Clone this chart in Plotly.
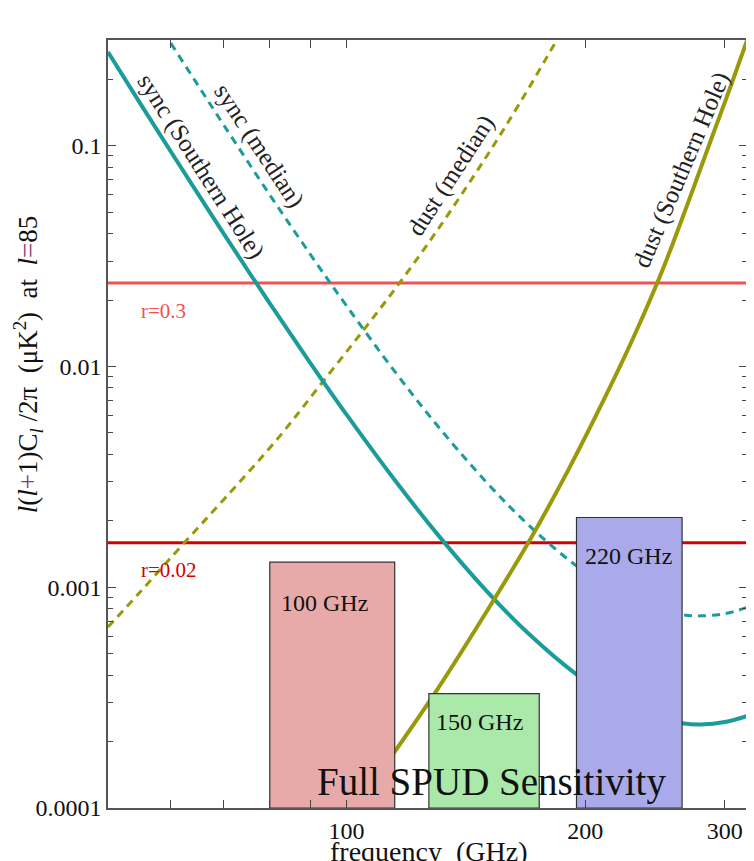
import math
import plotly.graph_objects as go

# ---------------- data ----------------
FREQ_RANGE = [50, 320]          # GHz, x-axis extent
CL_RANGE = [1e-4, 0.3014]       # y-axis extent

# synchrotron, Southern Hole (solid teal)
sync_sh_freq = [50, 55, 60, 65, 70, 80, 90, 100, 115, 130, 150, 170, 195, 220, 250, 265, 280, 300, 320]
sync_sh_val = [0.266, 0.154, 0.0942, 0.0602, 0.0399, 0.0193, 0.01037, 0.00605, 0.00306, 0.00175,
               0.000966, 0.000612, 0.000403, 0.000305, 0.000253, 0.000242, 0.000239, 0.000245, 0.000261]

# synchrotron, median (dashed teal)
sync_med_freq = [55, 60, 65, 70, 80, 90, 100, 115, 130, 150, 170, 195, 220, 250, 265, 280, 300, 320]
sync_med_val = [0.478, 0.292, 0.187, 0.124, 0.0599, 0.0322, 0.0188, 0.0095, 0.00543, 0.0030, 0.0019,
                0.00125, 0.000946, 0.000785, 0.000751, 0.000742, 0.000759, 0.00081]

# dust, Southern Hole (solid olive)
dust_sh_freq = [100, 110, 115, 130, 150, 170, 190, 210, 230, 250, 270, 290, 305, 320]
dust_sh_val = [9.0e-5, 1.44e-4, 1.80e-4, 3.42e-4, 7.7e-4, 1.62e-3, 3.35e-3, 6.8e-3, 0.0135, 0.027,
               0.056, 0.113, 0.185, 0.30]

# dust, median (dashed olive)
dust_med_freq = [50, 55, 62, 70, 82, 93, 105, 117, 130, 150, 165, 183, 190]
dust_med_val = [6.6e-4, 9.6e-4, 1.55e-3, 2.5e-3, 4.75e-3, 8.4e-3, 0.0146, 0.0243, 0.0412, 0.089,
                0.154, 0.29, 0.373]

# tensor-to-scalar reference levels
r_labels = ["r=0.3", "r=0.02"]
r_values = [0.0239, 0.00159]
r_colors = ["#f05252", "#d40000"]

# SPUD bands (full sensitivity)
band_labels = ["100 GHz", "150 GHz", "220 GHz"]
band_lo = [80, 127, 195]
band_hi = [115, 175, 265]
band_top = [0.0013, 0.00033, 0.00207]
band_colors = ["#e8a9a9", "#aae9aa", "#aaaaea"]

x_tickvals = [100, 200, 300]
x_ticktext = ["100", "200", "300"]
x_minor = [60, 70, 80, 90]
y_tickvals = [1e-4, 1e-3, 1e-2, 1e-1]
y_ticktext = ["0.0001", "0.001", "0.01", "0.1"]
y_minor = [m * d for d in (1e-4, 1e-3, 1e-2) for m in range(2, 10)] + [0.2]

TEAL = "#1b9c9a"
OLIVE = "#999a0a"
FONT = "Liberation Serif"

fig = go.Figure()

# horizontal r lines
for lab, val, col in zip(r_labels, r_values, r_colors):
    fig.add_trace(go.Scatter(x=FREQ_RANGE, y=[val, val], mode="lines",
                             line=dict(color=col, width=3), hoverinfo="skip"))

# foreground curves
fig.add_trace(go.Scatter(x=sync_med_freq, y=sync_med_val, mode="lines",
                         line=dict(color=TEAL, width=3, dash="8px,6px", shape="spline")))
fig.add_trace(go.Scatter(x=dust_med_freq, y=dust_med_val, mode="lines",
                         line=dict(color=OLIVE, width=3, dash="8px,6px", shape="spline")))
fig.add_trace(go.Scatter(x=sync_sh_freq, y=sync_sh_val, mode="lines",
                         line=dict(color=TEAL, width=4, shape="spline")))
fig.add_trace(go.Scatter(x=dust_sh_freq, y=dust_sh_val, mode="lines",
                         line=dict(color=OLIVE, width=4, shape="spline")))

# band boxes
for lo, hi, top, col in zip(band_lo, band_hi, band_top, band_colors):
    b = CL_RANGE[0]
    fig.add_trace(go.Scatter(x=[lo, lo, hi, hi, lo], y=[b, top, top, b, b], mode="lines",
                             fill="toself", fillcolor=col,
                             line=dict(color="#333333", width=1.2)))

L = math.log10
ann = []
# curve labels
ann.append(dict(x=L(65.6), y=-1.095, text="sync (Southern Hole)", textangle=57.4,
                font=dict(size=25, color="#222")))
ann.append(dict(x=L(77.6), y=-1.0, text="sync (median)", textangle=56.6,
                font=dict(size=25, color="#222")))
ann.append(dict(x=L(135.3), y=-1.136, text="dust (median)", textangle=-57,
                font=dict(size=25, color="#222")))
ann.append(dict(x=L(264.7), y=-1.110, text="dust (Southern Hole)", textangle=-67,
                font=dict(size=25, color="#222")))
# r labels
for lab, col, ly in zip(r_labels, r_colors, [-1.749, -2.923]):
    ann.append(dict(x=L(54.7), y=ly, text=lab, xanchor="left",
                    font=dict(size=21, color=col)))
# band labels
for lab, fx, ly in zip(band_labels, [93.7, 147.2, 227.1], [-3.071, -3.609, -2.858]):
    ann.append(dict(x=L(fx), y=ly, text=lab, font=dict(size=24, color="#111")))
# big caption
ann.append(dict(x=L(152.5), y=-3.883, text="Full SPUD Sensitivity",
                font=dict(size=39, color="#111")))
for a in ann:
    a.update(xref="x", yref="y", showarrow=False)
    a.setdefault("xanchor", "center")
    a["yanchor"] = "middle"
    a["font"]["family"] = FONT

# axis titles
ann.append(dict(xref="paper", yref="paper", x=0.502, y=-0.0565, showarrow=False,
                text="frequency\u00a0 (GHz)", font=dict(family=FONT, size=28, color="#111"),
                xanchor="center", yanchor="middle"))
ytitle = ("<i>l</i>(<i>l</i><span style='color:#8a3c7a'>+</span>1)C<sub><i>l</i></sub> /2\u03c0\u00a0 "
          "(\u03bcK<sup>2</sup>)\u00a0 at\u00a0 <i>l</i><span style='color:#8a3c7a'>=</span>85")
ann.append(dict(xref="paper", yref="paper", x=-0.125, y=0.578, showarrow=False, textangle=-90,
                text=ytitle, font=dict(family=FONT, size=27, color="#111"),
                xanchor="center", yanchor="middle"))

# the page body adds an 8px offset, so the figure is 8px smaller and margins shifted
fig.update_layout(
    width=746, height=853,
    margin=dict(l=100, r=7, t=32, b=53, autoexpand=False),
    paper_bgcolor="white", plot_bgcolor="white",
    showlegend=False,
    font=dict(family=FONT, size=24, color="#111"),
    annotations=ann,
    xaxis=dict(type="log", range=[L(FREQ_RANGE[0]), L(FREQ_RANGE[1])], automargin=False,
               tickmode="array", tickvals=x_tickvals, ticktext=x_ticktext,
               ticks="inside", ticklen=8, tickwidth=1.2, tickcolor="#444",
               minor=dict(tickmode="array", tickvals=x_minor, ticks="inside", ticklen=8,
                          tickwidth=1.2, tickcolor="#444", showgrid=False),
               showline=True, linecolor="#555", linewidth=1.5, mirror="ticks",
               showgrid=False, zeroline=False,
               tickfont=dict(family=FONT, size=24, color="#111")),
    yaxis=dict(type="log", range=[L(CL_RANGE[0]), L(CL_RANGE[1])], automargin=False,
               tickmode="array", tickvals=y_tickvals, ticktext=y_ticktext,
               ticks="inside", ticklen=8, tickwidth=1.2, tickcolor="#444",
               minor=dict(tickmode="array", tickvals=y_minor, ticks="inside", ticklen=5,
                          tickwidth=1.2, tickcolor="#444", showgrid=False),
               showline=True, linecolor="#555", linewidth=1.5, mirror="ticks",
               showgrid=False, zeroline=False,
               tickfont=dict(family=FONT, size=24, color="#111")),
)

fig.write_html("out.html")
